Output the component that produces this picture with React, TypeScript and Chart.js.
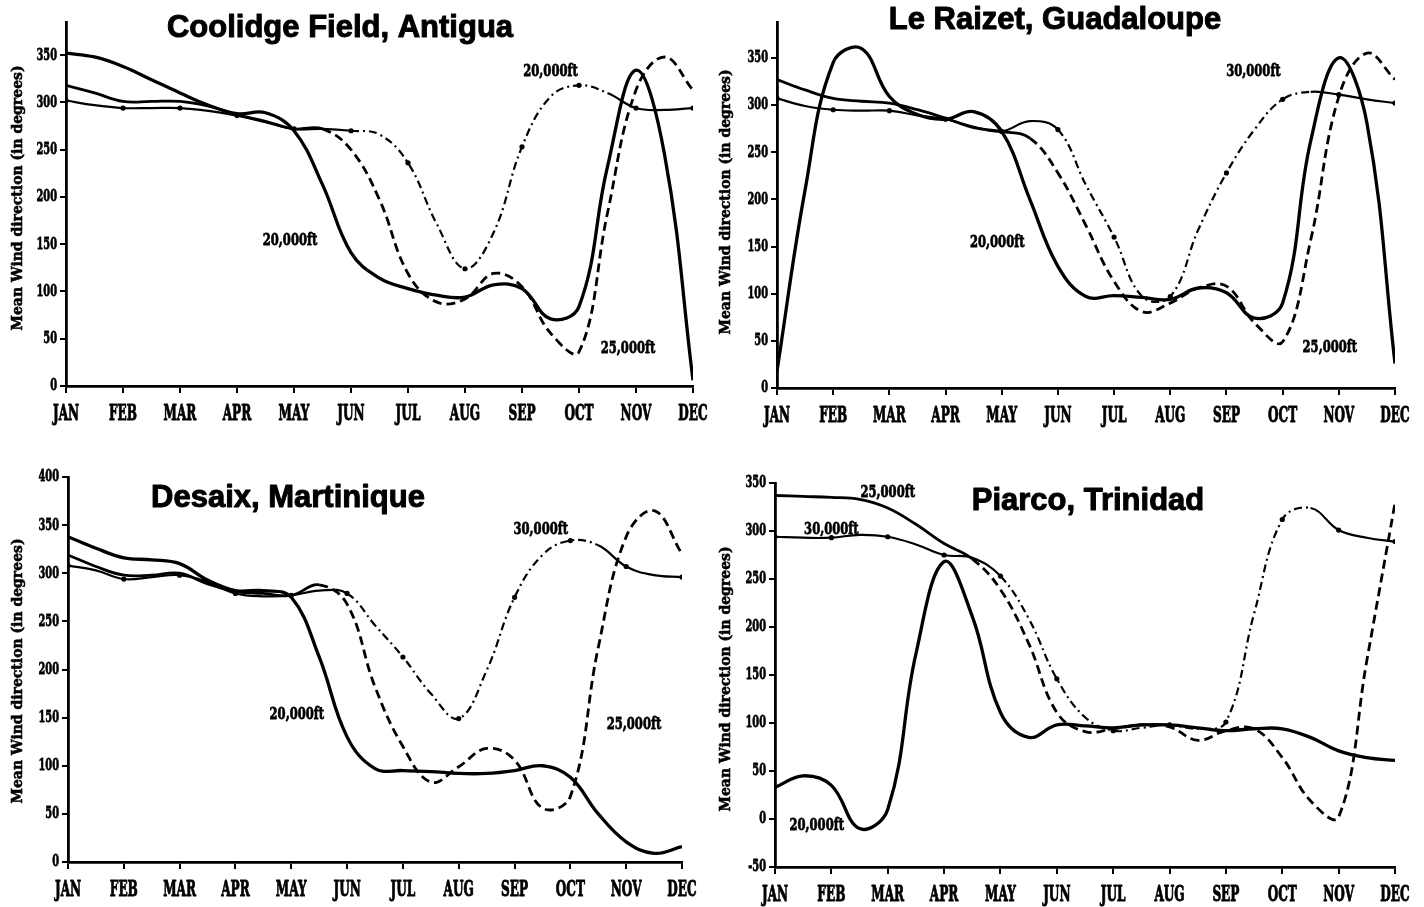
import React, { useEffect, useRef } from 'react';
import { Chart, registerables } from 'chart.js';

Chart.register(...registerables);

// ---------- shared axis data ----------
const months = ['JAN', 'FEB', 'MAR', 'APR', 'MAY', 'JUN', 'JUL', 'AUG', 'SEP', 'OCT', 'NOV', 'DEC'];
const monthIndex = [0, 1, 2, 3, 4, 5, 6, 7, 8, 9, 10, 11];
const halfMonths = [0, 0.5, 1, 1.5, 2, 2.5, 3, 3.5, 4, 4.5, 5, 5.5, 6, 6.5, 7, 7.5, 8, 8.5, 9, 9.5, 10, 10.5, 11];
const ticks0to350 = [0, 50, 100, 150, 200, 250, 300, 350];
const ticks0to400 = [0, 50, 100, 150, 200, 250, 300, 350, 400];
const ticksM50to350 = [-50, 0, 50, 100, 150, 200, 250, 300, 350];
const yAxisTitle = 'Mean Wind direction (in degrees)';

// ---------- series (mean wind direction, degrees, read at half-month steps) ----------
const coolidge20k = [352, 348, 338, 324, 310, 297, 288, 289, 270, 213, 141, 114, 103, 96, 94, 107, 103, 71, 84, 232, 334, 245, 6];
const coolidge25k = [318, 310, 301, 301, 301, 296, 287, 280, 272, 272, 250, 197, 119, 89, 92, 119, 105, 56, 36, 183, 313, 348, 313];
const coolidge30k = [302, 297, 294, 294, 294, 291, 286, 279, 272, 272, 270, 266, 236, 172, 124, 162, 253, 306, 318, 310, 294, 292, 294];

const raizet20k = [18, 210, 345, 360, 309, 290, 285, 293, 272, 200, 129, 97, 98, 96, 94, 106, 101, 74, 90, 262, 350, 281, 26];
const raizet25k = [327, 316, 307, 304, 302, 295, 286, 276, 272, 265, 228, 172, 113, 81, 90, 106, 108, 69, 49, 157, 309, 355, 327];
const raizet30k = [307, 299, 295, 294, 294, 289, 285, 277, 272, 283, 274, 215, 160, 97, 97, 168, 228, 274, 306, 314, 311, 306, 302];

const desaix20k = [338, 326, 316, 314, 310, 293, 282, 282, 275, 213, 130, 97, 95, 94, 92, 92, 95, 100, 88, 50, 21, 9, 16];
const desaix25k = [319, 307, 298, 298, 300, 289, 281, 279, 277, 288, 268, 182, 120, 83, 99, 118, 106, 56, 68, 223, 338, 365, 320];
const desaix30k = [308, 303, 294, 296, 298, 291, 279, 276, 277, 282, 279, 246, 213, 175, 149, 199, 275, 319, 334, 329, 307, 298, 296];

const piarco20k = [33, 45, 35, -10, 10, 172, 268, 211, 111, 85, 98, 97, 95, 98, 98, 95, 92, 94, 94, 85, 71, 64, 61];
const piarco25k = [337, 336, 335, 333, 324, 307, 287, 271, 239, 183, 111, 91, 94, 98, 96, 82, 92, 94, 64, 19, 2, 165, 329];
const piarco30k = [294, 293, 293, 296, 294, 286, 275, 272, 253, 209, 146, 106, 92, 95, 98, 94, 101, 214, 312, 324, 301, 293, 289];

// ---------- panel configs ----------
interface CurveLabel { text: string; month: number; deg: number }
interface PanelCfg {
  key: string;
  title: string;
  left: number; top: number; w: number; h: number;
  pad: { left: number; right: number; top: number; bottom: number };
  yAxisWidth: number; xAxisHeight: number;
  yMin: number; yMax: number; yTicks: number[];
  s20: number[]; s25: number[]; s30: number[];
  dashFrom25: number; dotDash30: [number, number];
  labels: CurveLabel[];
  titleX: number; titleY: number;
  yTitleX: number; yTitleY: number;
}

const panels: PanelCfg[] = [
  {
    key: 'coolidge', title: 'Coolidge Field, Antigua',
    left: 0, top: 0, w: 712, h: 450,
    pad: { left: 4, right: 19, top: 22, bottom: 0 }, yAxisWidth: 62, xAxisHeight: 64,
    yMin: 0, yMax: 385, yTicks: ticks0to350,
    s20: coolidge20k, s25: coolidge25k, s30: coolidge30k,
    dashFrom25: 4.5, dotDash30: [5, 9.5],
    labels: [
      { text: '20,000ft', month: 3.93, deg: 154 },
      { text: '20,000ft', month: 8.5, deg: 333 },
      { text: '25,000ft', month: 9.86, deg: 40 },
    ],
    titleX: 340, titleY: 37, yTitleX: 18, yTitleY: 198,
  },
  {
    key: 'raizet', title: 'Le Raizet, Guadaloupe',
    left: 712, top: 0, w: 712, h: 450,
    pad: { left: 4, right: 29, top: 22, bottom: 0 }, yAxisWidth: 61, xAxisHeight: 62,
    yMin: 0, yMax: 388, yTicks: ticks0to350,
    s20: raizet20k, s25: raizet25k, s30: raizet30k,
    dashFrom25: 4.5, dotDash30: [5, 9.5],
    labels: [
      { text: '20,000ft', month: 3.92, deg: 154 },
      { text: '30,000ft', month: 8.48, deg: 335 },
      { text: '25,000ft', month: 9.84, deg: 43 },
    ],
    titleX: 343, titleY: 29, yTitleX: 14, yTitleY: 202,
  },
  {
    key: 'desaix', title: 'Desaix, Martinique',
    left: 0, top: 450, w: 712, h: 457,
    pad: { left: 4, right: 30, top: 27, bottom: 0 }, yAxisWidth: 64, xAxisHeight: 45,
    yMin: 0, yMax: 400, yTicks: ticks0to400,
    s20: desaix20k, s25: desaix25k, s30: desaix30k,
    dashFrom25: 4.2, dotDash30: [5, 9.5],
    labels: [
      { text: '20,000ft', month: 4.1, deg: 153 },
      { text: '30,000ft', month: 8.47, deg: 345 },
      { text: '25,000ft', month: 10.14, deg: 143 },
    ],
    titleX: 288, titleY: 57, yTitleX: 18, yTitleY: 221,
  },
  {
    key: 'piarco', title: 'Piarco, Trinidad',
    left: 712, top: 450, w: 712, h: 457,
    pad: { left: 4, right: 29, top: 33, bottom: 0 }, yAxisWidth: 59, xAxisHeight: 40,
    yMin: -50, yMax: 350, yTicks: ticksM50to350,
    s20: piarco20k, s25: piarco25k, s30: piarco30k,
    dashFrom25: 3.5, dotDash30: [4, 9.5],
    labels: [
      { text: '25,000ft', month: 2.0, deg: 340 },
      { text: '30,000ft', month: 1.0, deg: 302 },
      { text: '20,000ft', month: 0.74, deg: -7 },
    ],
    titleX: 376, titleY: 60, yTitleX: 14, yTitleY: 229,
  },
];

const toPoints = (vals: number[]) => halfMonths.map((x, i) => ({ x, y: vals[i] }));

function drawScaled(ctx: CanvasRenderingContext2D, text: string, x: number, y: number, sx: number, stroke: number) {
  ctx.save();
  ctx.translate(x, y);
  ctx.scale(sx, 1);
  ctx.fillText(text, 0, 0);
  if (stroke > 0) {
    ctx.lineWidth = stroke;
    ctx.strokeText(text, 0, 0);
  }
  ctx.restore();
}

function makeTextPlugin(cfg: PanelCfg) {
  return {
    id: 'panelText_' + cfg.key,
    afterDraw(chart: any) {
      const { ctx, chartArea } = chart;
      const xs = chart.scales.x;
      const ys = chart.scales.y;
      ctx.save();
      ctx.fillStyle = '#000';
      ctx.strokeStyle = '#000';
      ctx.lineJoin = 'round';

      // panel title
      ctx.font = 'bold 31px "Liberation Sans", Arial, sans-serif';
      ctx.textAlign = 'center';
      ctx.textBaseline = 'alphabetic';
      ctx.fillText(cfg.title, cfg.titleX, cfg.titleY);
      ctx.lineWidth = 1;
      ctx.strokeText(cfg.title, cfg.titleX, cfg.titleY);

      // month labels
      ctx.font = 'bold 22px "DejaVu Serif", serif';
      ctx.textAlign = 'center';
      ctx.textBaseline = 'middle';
      monthIndex.forEach((i) => drawScaled(ctx, months[i], xs.getPixelForValue(i), chartArea.bottom + 28, 0.55, 1));

      // y tick labels
      ctx.font = 'bold 17px "DejaVu Serif", serif';
      ctx.textAlign = 'right';
      cfg.yTicks.forEach((v) => drawScaled(ctx, String(v), chartArea.left - 9, ys.getPixelForValue(v), 0.58, 0.8));

      // curve labels
      ctx.font = 'bold 17px "DejaVu Serif", serif';
      ctx.textAlign = 'center';
      cfg.labels.forEach((l) => drawScaled(ctx, l.text, xs.getPixelForValue(l.month), ys.getPixelForValue(l.deg), 0.68, 0.8));

      // y-axis title
      ctx.font = 'bold 15px "DejaVu Serif", serif';
      const w = ctx.measureText(yAxisTitle).width;
      ctx.save();
      ctx.translate(cfg.yTitleX, cfg.yTitleY);
      ctx.rotate(-Math.PI / 2);
      ctx.scale(265 / w, 1);
      ctx.textAlign = 'center';
      ctx.fillText(yAxisTitle, 0, 0);
      ctx.lineWidth = 0.6;
      ctx.strokeText(yAxisTitle, 0, 0);
      ctx.restore();

      ctx.restore();
    },
  };
}

function Panel({ cfg }: { cfg: PanelCfg }) {
  const ref = useRef<HTMLCanvasElement>(null);
  useEffect(() => {
    const canvas = ref.current;
    if (!canvas) return;
    const chart = new Chart(canvas, {
      type: 'line',
      data: {
        datasets: [
          {
            label: '20,000ft',
            data: toPoints(cfg.s20),
            borderColor: '#000',
            borderWidth: 3.3,
            pointRadius: 0,
            tension: 0.4,
            fill: false,
          },
          {
            label: '25,000ft',
            data: toPoints(cfg.s25),
            borderColor: '#000',
            borderWidth: 2.8,
            pointRadius: 0,
            tension: 0.4,
            fill: false,
            segment: {
              borderDash: (c: any) => (c.p0.parsed.x >= cfg.dashFrom25 ? [9, 5] : []),
            },
          },
          {
            label: '30,000ft',
            data: toPoints(cfg.s30),
            borderColor: '#000',
            borderWidth: 2.2,
            pointRadius: (c: any) => (c.dataIndex % 2 === 0 ? 2.6 : 0),
            pointBackgroundColor: '#000',
            pointBorderWidth: 0,
            tension: 0.4,
            fill: false,
            segment: {
              borderDash: (c: any) =>
                c.p0.parsed.x >= cfg.dotDash30[0] && c.p0.parsed.x < cfg.dotDash30[1] ? [8, 4, 2, 4] : [],
            },
          },
        ],
      },
      options: {
        responsive: false,
        maintainAspectRatio: false,
        animation: false,
        events: [],
        layout: { padding: cfg.pad },
        plugins: {
          legend: { display: false },
          tooltip: { enabled: false },
          title: { display: false },
        },
        scales: {
          x: {
            type: 'linear',
            min: 0,
            max: 11,
            afterBuildTicks: (s: any) => {
              s.ticks = monthIndex.map((v) => ({ value: v }));
            },
            afterFit: (s: any) => {
              s.height = cfg.xAxisHeight;
            },
            ticks: { display: false },
            grid: { drawOnChartArea: false, drawTicks: true, tickLength: 7, color: '#000', lineWidth: 2 },
            border: { display: true, color: '#000', width: 2.8 },
          },
          y: {
            type: 'linear',
            min: cfg.yMin,
            max: cfg.yMax,
            afterBuildTicks: (s: any) => {
              s.ticks = cfg.yTicks.map((v) => ({ value: v }));
            },
            afterFit: (s: any) => {
              s.width = cfg.yAxisWidth;
            },
            ticks: { display: false },
            grid: { drawOnChartArea: false, drawTicks: true, tickLength: 6, color: '#000', lineWidth: 2 },
            border: { display: true, color: '#000', width: 2.8 },
          },
        },
      } as any,
      plugins: [makeTextPlugin(cfg)],
    });
    return () => chart.destroy();
  }, [cfg]);
  return (
    <canvas
      ref={ref}
      width={cfg.w}
      height={cfg.h}
      style={{ position: 'absolute', left: cfg.left, top: cfg.top, width: cfg.w, height: cfg.h }}
    />
  );
}

export default function App() {
  return (
    <div style={{ position: 'absolute', left: 0, top: 0, width: 1424, height: 907, background: '#fff' }}>
      {panels.map((p) => (
        <Panel key={p.key} cfg={p} />
      ))}
    </div>
  );
}
